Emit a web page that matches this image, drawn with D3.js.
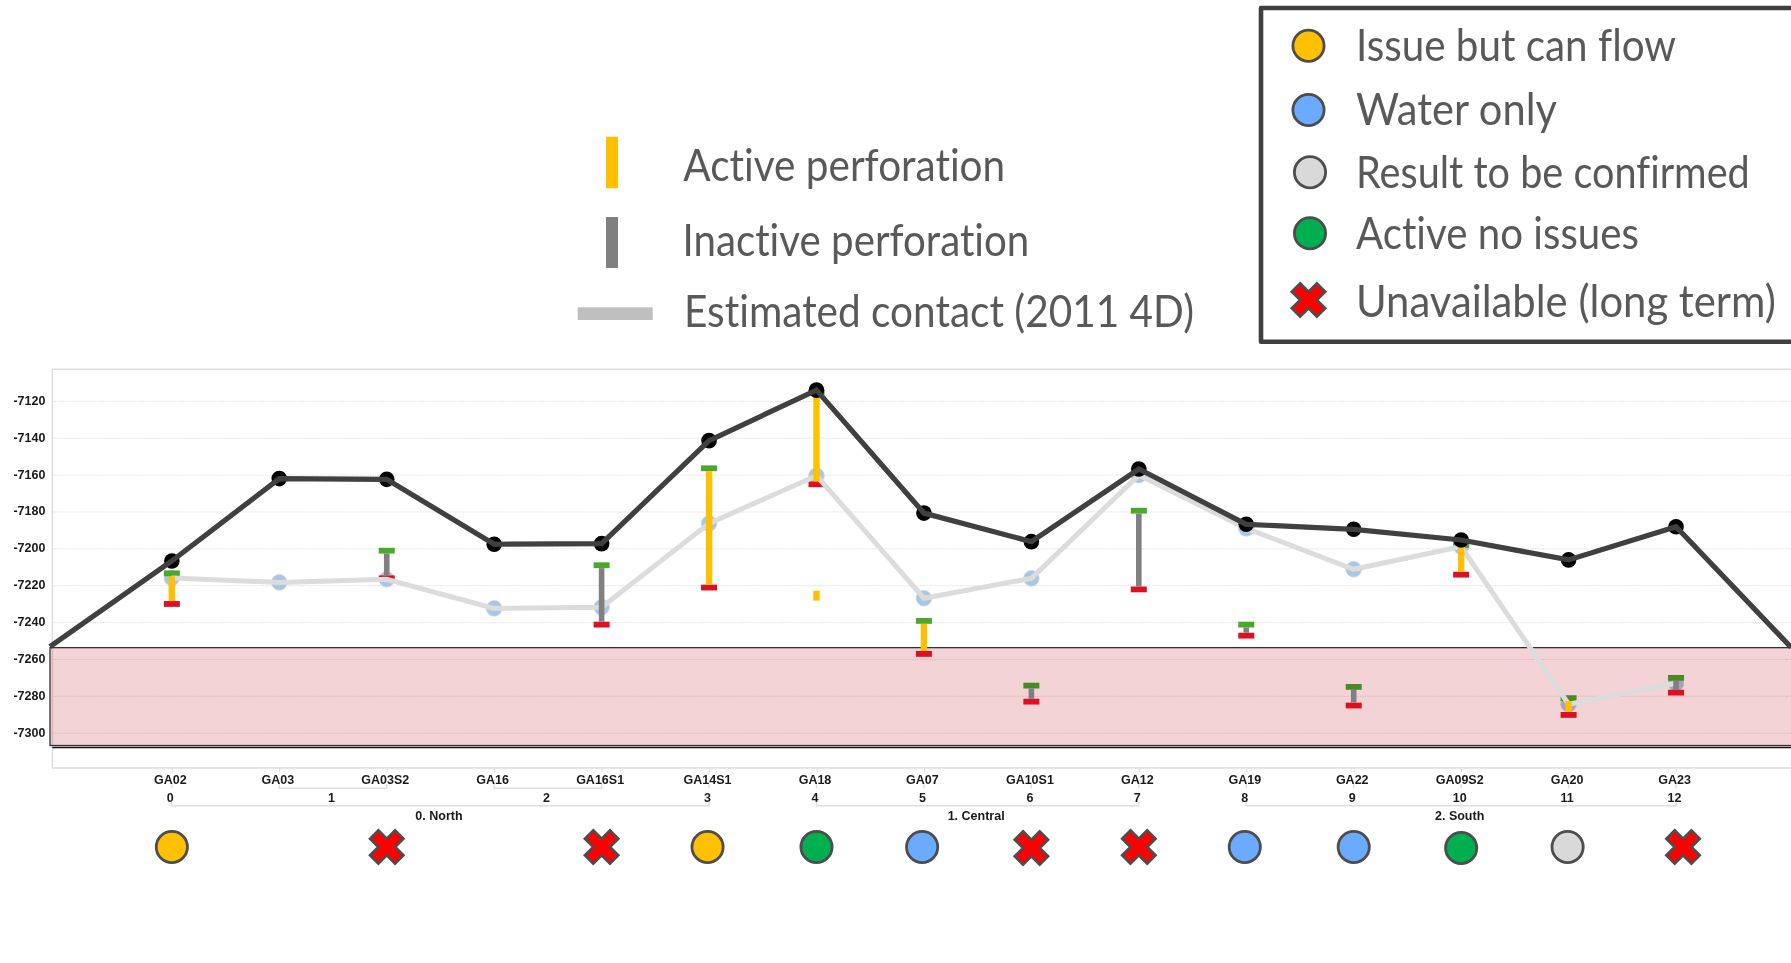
<!DOCTYPE html>
<html>
<head>
<meta charset="utf-8">
<script src="https://cdn.jsdelivr.net/npm/d3@7"></script>
<style>
  html, body { margin: 0; padding: 0; background: #fff; overflow: hidden; }
  svg { display: block; }
  .tick-text text, .axis text { font-family: "Liberation Sans", Arial, sans-serif; font-weight: bold; font-size: 12.5px; fill: #1a1a1a; }
  .legend-text { font-family: Lato, sans-serif; font-size: 45px; fill: #595959; font-variant-ligatures: none; }
</style>
</head>
<body>
<div id="chart"></div>
<script>
// wells along the x axis
const wells = ['GA02', 'GA03', 'GA03S2', 'GA16', 'GA16S1', 'GA14S1', 'GA18', 'GA07', 'GA10S1', 'GA12', 'GA19', 'GA22', 'GA09S2', 'GA20', 'GA23'];

// second and third level of the axis: first and last well index of each group
const subLabels = ['0', '1', '2', '3', '4', '5', '6', '7', '8', '9', '10', '11', '12'];
const subStart = [0, 1, 3, 5, 6, 7, 8, 9, 10, 11, 12, 13, 14];
const subEnd = [0, 2, 4, 5, 6, 7, 8, 9, 10, 11, 12, 13, 14];
const regionLabels = ['0. North', '1. Central', '2. South'];
const regionStart = [0, 6, 10];
const regionEnd = [5, 9, 14];

const yTicks = [-7120, -7140, -7160, -7180, -7200, -7220, -7240, -7260, -7280, -7300];

// dark line, plus the values where it leaves the plot on either side
const topSurface = [-7206.6, -7161.9, -7162.3, -7197.5, -7197.2, -7141.3, -7113.9, -7180.6, -7196.1, -7156.7, -7186.7, -7189.4, -7195.2, -7206, -7188];
const topSurfaceEnds = [-7253, -7253.4];

// estimated contact (2011 4D)
const contact = [-7215.8, -7218.2, -7216.5, -7232.3, -7231.7, -7186.2, -7160.3, -7226.8, -7216, -7160, -7188.9, -7211.1, -7198.8, -7284.3, -7272.9];

// perforations
const perfWells = ['GA02', 'GA03S2', 'GA16S1', 'GA14S1', 'GA18', 'GA07', 'GA10S1', 'GA12', 'GA19', 'GA22', 'GA09S2', 'GA20', 'GA23'];
const perfTop = [-7213.3, -7201, -7208.9, -7156.3, -7115.3, -7239.1, -7274.2, -7179.3, -7241.1, -7274.9, -7197.9, -7281, -7270];
const perfBottom = [-7229.9, -7216, -7241.1, -7221, -7165, -7257, -7282.9, -7222, -7247.1, -7285, -7214, -7290.1, -7278];
const perfActive = [1, 0, 0, 1, 1, 1, 0, 0, 0, 0, 1, 1, 0];

// the short extra interval in GA18 has no caps
const extraPerfWell = 'GA18';
const extraPerfTop = -7222.7;
const extraPerfBottom = -7228.1;

// shaded zone
const zoneTop = -7253.6;
const zoneBottom = -7306.7;
const zoneFloor = -7307.8;

// status of each well ('' = no marker)
const wellStatus = ['issue', '', 'out', '', 'out', 'issue', 'active', 'water', 'out', 'out', 'water', 'water', 'active', 'confirm', 'out'];

const statusKeys = ['issue', 'water', 'confirm', 'active', 'out'];
const statusLabels = ['Issue but can flow', 'Water only', 'Result to be confirmed', 'Active no issues', 'Unavailable (long term)'];
const statusColors = ['#ffc000', '#6aaaff', '#d9d9d9', '#00b050', '#ff0000'];

const width = 1791;
const height = 963;

const svg = d3.select('#chart').append('svg')
    .attr('width', width)
    .attr('height', height);

// x runs on the well index, the plot ends fall outside the first and last well
const xDomain = [-1.134, 15.07];
const x = d3.scaleLinear().domain(xDomain).range([50, 1791]);
const y = d3.scaleLinear().domain([-7102.6, -7318.9]).range([369.3, 768]);
const xWell = name => x(wells.indexOf(name));

const plotLeft = 52.4;
const color = d3.scaleOrdinal().domain(statusKeys).range(statusColors);

// plot frame
svg.append('path')
    .attr('d', `M${width},${y.range()[0]}H${plotLeft}V${y.range()[1]}H${width}`)
    .attr('fill', 'none')
    .attr('stroke', '#dedede')
    .attr('stroke-width', 1.6);

// grid and y axis
const yAxis = svg.append('g')
    .attr('class', 'axis')
    .attr('transform', `translate(${plotLeft},0)`)
    .call(d3.axisLeft(y).tickValues(yTicks).tickSize(0).tickPadding(7).tickFormat(d => String(d)));
yAxis.select('.domain').remove();
yAxis.selectAll('text').attr('y', -1);

svg.append('g')
    .selectAll('line')
    .data(yTicks)
    .join('line')
    .attr('x1', plotLeft)
    .attr('x2', width)
    .attr('y1', d => y(d))
    .attr('y2', d => y(d))
    .attr('stroke', '#d9d9d9')
    .attr('stroke-width', 0.8)
    .attr('stroke-dasharray', '1.5,1');

// well labels
const xAxis = svg.append('g')
    .attr('class', 'axis')
    .attr('transform', `translate(0,${y.range()[1]})`)
    .call(d3.axisBottom(x).tickValues(d3.range(wells.length)).tickSize(4).tickPadding(3).tickFormat(i => wells[i]));
xAxis.select('.domain').remove();
xAxis.selectAll('line').attr('stroke', '#dedede');
xAxis.selectAll('text').attr('dx', -2).attr('dy', '0.75em');

// brackets and labels for the lower axis levels
function drawLevel(labels, starts, ends, lineY, labelY) {
    const level = svg.append('g').attr('class', 'tick-text');
    level.selectAll('path')
        .data(labels)
        .join('path')
        .attr('d', (d, i) => `M${x(starts[i])},${lineY - 4}V${lineY}H${x(ends[i])}V${lineY - 4}`)
        .attr('fill', 'none')
        .attr('stroke', '#dedede')
        .attr('stroke-width', 1.4);
    level.selectAll('text')
        .data(labels)
        .join('text')
        .attr('x', (d, i) => (x(starts[i]) + x(ends[i])) / 2 - 1.5)
        .attr('y', labelY)
        .attr('text-anchor', 'middle')
        .text(d => d);
}
drawLevel(subLabels, subStart, subEnd, 788.3, 802);
drawLevel(regionLabels, regionStart, regionEnd, 805.7, 819.5);

// contact dots and green caps sit below the shaded zone
svg.append('g')
    .selectAll('circle')
    .data(contact)
    .join('circle')
    .attr('cx', (d, i) => x(i))
    .attr('cy', d => y(d))
    .attr('r', 7.8)
    .attr('fill', '#a9c6e3')
    .attr('stroke', '#c3d6ea')
    .attr('stroke-width', 0.8);

const capW = 16;
const capH = 5.8;

svg.append('g')
    .selectAll('rect')
    .data(perfWells)
    .join('rect')
    .attr('x', d => xWell(d) - capW / 2)
    .attr('y', (d, i) => y(perfTop[i]) - capH / 2)
    .attr('width', capW)
    .attr('height', capH)
    .attr('fill', '#4aa82a');

svg.append('rect')
    .attr('x', x(xDomain[0]))
    .attr('y', y(zoneTop))
    .attr('width', width - x(xDomain[0]) + 5)
    .attr('height', y(zoneBottom) - y(zoneTop))
    .attr('fill', '#f4d3d6')
    .attr('stroke', '#333')
    .attr('stroke-width', 1.3)
    .style('mix-blend-mode', 'multiply');

svg.append('line')
    .attr('x1', plotLeft)
    .attr('x2', width)
    .attr('y1', y(zoneFloor))
    .attr('y2', y(zoneFloor))
    .attr('stroke', '#111')
    .attr('stroke-width', 1.6);

// red caps
svg.append('g')
    .selectAll('rect')
    .data(perfWells)
    .join('rect')
    .attr('x', d => xWell(d) - capW / 2)
    .attr('y', (d, i) => y(perfBottom[i]) - capH / 2)
    .attr('width', capW)
    .attr('height', capH)
    .attr('fill', '#dc1020');

// contact line
const contactLine = d3.line().x((d, i) => x(i)).y(d => y(d));
svg.append('path')
    .attr('d', contactLine(contact))
    .attr('fill', 'none')
    .attr('stroke', '#dcdcdc')
    .attr('stroke-width', 5);

// perforation bars
svg.append('g')
    .selectAll('rect')
    .data(perfWells)
    .join('rect')
    .attr('x', (d, i) => xWell(d) - (perfActive[i] ? 3.2 : 2.8))
    .attr('y', (d, i) => y(perfTop[i]) + capH / 2)
    .attr('width', (d, i) => perfActive[i] ? 6.4 : 5.6)
    .attr('height', (d, i) => y(perfBottom[i]) - y(perfTop[i]) - capH)
    .attr('fill', (d, i) => perfActive[i] ? '#ffc000' : '#808080');

svg.append('rect')
    .attr('x', xWell(extraPerfWell) - 3.2)
    .attr('y', y(extraPerfTop))
    .attr('width', 6.4)
    .attr('height', y(extraPerfBottom) - y(extraPerfTop))
    .attr('fill', '#ffc000');

// top surface line
svg.append('g')
    .selectAll('circle')
    .data(topSurface)
    .join('circle')
    .attr('cx', (d, i) => x(i))
    .attr('cy', d => y(d))
    .attr('r', 7.8)
    .attr('fill', '#000');

const topPoints = [[xDomain[0], topSurfaceEnds[0]]]
    .concat(topSurface.map((d, i) => [i, d]))
    .concat([[xDomain[1], topSurfaceEnds[1]]]);
svg.append('path')
    .attr('d', d3.line().x(d => x(d[0])).y(d => y(d[1]))(topPoints))
    .attr('fill', 'none')
    .attr('stroke', '#404040')
    .attr('stroke-width', 5.2);

// status marker: circle, or a red cross for unavailable wells
function addMarker(sel, status) {
    if (status === 'out') {
        sel.append('path')
            .attr('d', d3.symbol(d3.symbolCross, 700)())
            .attr('transform', 'rotate(45)')
            .attr('fill', color(status))
            .attr('stroke', '#4d4d4d')
            .attr('stroke-width', 2.6);
    } else {
        sel.append('circle')
            .attr('r', 15.6)
            .attr('fill', color(status))
            .attr('stroke', '#4d4d4d')
            .attr('stroke-width', 2.8);
    }
}

// hand placed in the original, so a few markers sit off their well
const markerShift = { GA14S1: -1.5, GA07: -1.8, GA19: -1.5, GA20: -1, GA23: 7 };
const markerDrop = { GA10S1: 1, GA09S2: 1 };
wellStatus.forEach((status, i) => {
    if (!status) return;
    const g = svg.append('g')
        .attr('transform', `translate(${x(i) + (markerShift[wells[i]] || 0)},${847 + (markerDrop[wells[i]] || 0)})`);
    addMarker(g, status);
});

// legend text squeezed to the narrow width of the original typeface
function legendText(sel, tx, ty, w, label) {
    const t = sel.append('text')
        .attr('class', 'legend-text')
        .text(label);
    const k = w / t.node().getComputedTextLength();
    t.attr('transform', `translate(${tx},${ty}) scale(${k},1)`);
}

// status legend
svg.append('path')
    .attr('d', `M${width + 10},8H1261V341.7H${width + 10}`)
    .attr('fill', '#fff')
    .attr('stroke', '#404040')
    .attr('stroke-width', 4.6)
    .attr('stroke-linejoin', 'round');

const statusLegendY = [45.7, 110, 172.3, 233.3, 300];
const statusLegendX = [1308.5, 1308.5, 1310, 1310, 1308.5];
const statusBaselineY = [61, 125, 187.7, 249, 316.7];
const statusTextW = [320, 201, 394, 283, 420];
statusKeys.forEach((key, i) => {
    const g = svg.append('g').attr('transform', `translate(${statusLegendX[i]},${statusLegendY[i]})`);
    addMarker(g, key);
    legendText(svg, 1356, statusBaselineY[i], statusTextW[i], statusLabels[i]);
});

// perforation legend
svg.append('rect').attr('x', 606).attr('y', 136.7).attr('width', 12).attr('height', 51.6).attr('fill', '#ffc000');
svg.append('rect').attr('x', 606).attr('y', 217).attr('width', 12).attr('height', 51).attr('fill', '#808080');
svg.append('rect').attr('x', 577.7).attr('y', 307.3).attr('width', 75).attr('height', 12.7).attr('fill', '#bfbfbf');
legendText(svg, 683.3, 180.7, 322, 'Active perforation');
legendText(svg, 682.5, 256, 347, 'Inactive perforation');
legendText(svg, 684, 326.7, 510, 'Estimated contact (2011 4D)');
</script>
</body>
</html>
